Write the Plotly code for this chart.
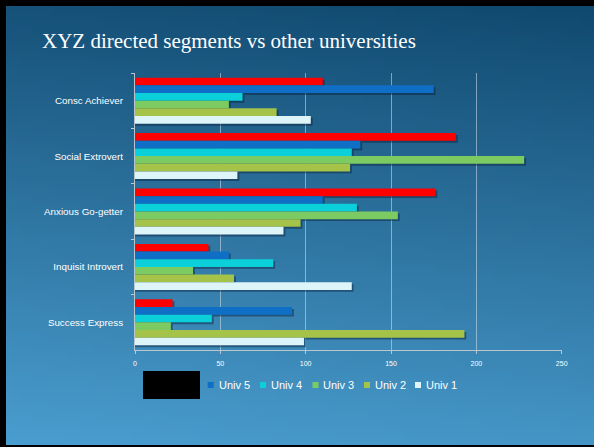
import base64
import struct
import zlib

import plotly.graph_objects as go

# ---- data -------------------------------------------------------------
segments = ["Consc Achiever", "Social Extrovert", "Anxious Go-getter",
            "Inquisit Introvert", "Success Express"]

xyz = [110, 188, 176, 43, 22]
univ5 = [175, 132, 110, 55, 92]
univ4 = [63, 127, 130, 81, 45]
univ3 = [55, 228, 154, 34, 21]
univ2 = [83, 126, 97, 58, 193]
univ1 = [103, 60, 87, 127, 99]

series_names = ["XYZ", "Univ 5", "Univ 4", "Univ 3", "Univ 2", "Univ 1"]
series_values = [xyz, univ5, univ4, univ3, univ2, univ1]
series_colors = ["#FF0000", "#0F6FC6", "#0BD0D9", "#7CCA62", "#A5C249", "#DDF4F8"]

x_ticks = [0, 50, 100, 150, 200, 250]

W, H = 594, 447


def px_x(p):
    return p / W


def px_y(p):
    return 1 - p / H


# ---- slide background: small gradient PNG stretched over the page -----
def gradient_png(w, h):
    dark = (14, 70, 108)
    light = (76, 160, 210)
    rows = []
    for j in range(h):
        row = bytearray([0])
        fy = j / (h - 1)
        for i in range(w):
            fx = i / (w - 1)
            t = 0.9 * fy + 0.1 * (1 - fx)
            row += bytes(int(round(d + (l - d) * t)) for d, l in zip(dark, light))
        rows.append(bytes(row))
    raw = b"".join(rows)

    def chunk(tag, data):
        c = struct.pack(">I", len(data)) + tag + data
        return c + struct.pack(">I", zlib.crc32(tag + data) & 0xFFFFFFFF)

    png = b"\x89PNG\r\n\x1a\n"
    png += chunk(b"IHDR", struct.pack(">IIBBBBB", w, h, 8, 2, 0, 0, 0))
    png += chunk(b"IDAT", zlib.compress(raw, 9))
    png += chunk(b"IEND", b"")
    return "data:image/png;base64," + base64.b64encode(png).decode()


fig = go.Figure()

# grouped bars laid out by hand in overlay mode so each bar can carry a
# soft drop shadow underneath it
group_span = 0.83
bar_w = group_span / len(series_names)
shadow_dx = 1.1      # data units to the right
shadow_dy = 0.035    # category units downward

for k, vals in enumerate(series_values):
    fig.add_trace(go.Bar(
        y=segments, x=[v + shadow_dx for v in vals], orientation="h",
        width=bar_w, offset=-group_span / 2 + k * bar_w + shadow_dy,
        marker=dict(color="rgba(8,28,55,0.45)", line=dict(width=0)),
        hoverinfo="skip", showlegend=False,
    ))

for k, (name, vals, col) in enumerate(zip(series_names, series_values, series_colors)):
    fig.add_trace(go.Bar(
        y=segments, x=vals, name=name, orientation="h",
        width=bar_w, offset=-group_span / 2 + k * bar_w,
        marker=dict(color=col, line=dict(width=0)),
        showlegend=False,
    ))

# ---- legend drawn as squares + labels ---------------------------------
legend_sq_x = [210.7, 263, 315.5, 367, 418]
legend_y = 385
for name, col, cx in zip(series_names[1:], series_colors[1:], legend_sq_x):
    fig.add_shape(type="rect", xref="paper", yref="paper",
                  x0=px_x(cx - 3), x1=px_x(cx + 3),
                  y0=px_y(legend_y + 3), y1=px_y(legend_y - 3),
                  fillcolor=col, line=dict(width=0), layer="above")
    fig.add_annotation(x=px_x(cx + 6), y=px_y(legend_y), xref="paper", yref="paper",
                       text=name, showarrow=False, xanchor="left", yanchor="middle",
                       font=dict(family="Liberation Sans, Arial", size=11, color="white"))

# black block over the first legend entry
fig.add_shape(type="rect", xref="paper", yref="paper",
              x0=px_x(143), x1=px_x(200), y0=px_y(399), y1=px_y(371),
              fillcolor="black", line=dict(width=0), layer="above")

# title
fig.add_annotation(x=px_x(40), y=px_y(41), xref="paper", yref="paper",
                   text="XYZ directed segments vs other universities",
                   showarrow=False, xanchor="left", yanchor="middle",
                   font=dict(family="Liberation Serif, Times New Roman", size=21, color="white"))

# background gradient runs a little past the page edges so the stretched
# image has no faded border; a thin black frame sits on top of it
fig.add_layout_image(dict(
    source=gradient_png(64, 48), xref="paper", yref="paper",
    x=-0.03, y=1.03, sizex=1.06, sizey=1.06,
    xanchor="left", yanchor="top", sizing="stretch", layer="below",
))
frame = [(0, 0, W, 6), (0, 0, 6, H), (0, 445, W, H)]
for x0, y0, x1, y1 in frame:
    fig.add_shape(type="rect", xref="paper", yref="paper",
                  x0=px_x(x0), x1=px_x(x1), y0=px_y(y1), y1=px_y(y0),
                  fillcolor="black", line=dict(width=0), layer="below")

grid_col = "rgba(215,225,235,0.55)"
axis_col = "rgba(200,205,210,0.9)"

fig.update_layout(
    width=W, height=H,
    margin=dict(l=0, r=0, t=0, b=0, pad=0, autoexpand=False),
    paper_bgcolor="#3f93c6",
    plot_bgcolor="rgba(0,0,0,0)",
    barmode="overlay",
    showlegend=False,
    xaxis=dict(
        domain=[px_x(135), px_x(561.7)],
        range=[0, 250], tickvals=x_ticks,
        showgrid=True, gridcolor=grid_col, gridwidth=1,
        zeroline=False,
        showline=True, linecolor=axis_col, linewidth=1,
        ticks="outside", ticklen=3, tickcolor=axis_col,
        tickfont=dict(family="Liberation Sans, Arial", size=7, color="white"),
        ticklabelstandoff=4,
    ),
    yaxis=dict(
        domain=[px_y(350), px_y(73)],
        autorange="reversed",
        showgrid=False, zeroline=False,
        showline=True, linecolor=axis_col, linewidth=1,
        ticks="outside", ticklen=3, tickcolor=axis_col, tickson="boundaries",
        tickfont=dict(family="Liberation Sans, Arial", size=9.8, color="white"),
        ticklabelstandoff=9,
    ),
)

fig.write_html("out.html")
